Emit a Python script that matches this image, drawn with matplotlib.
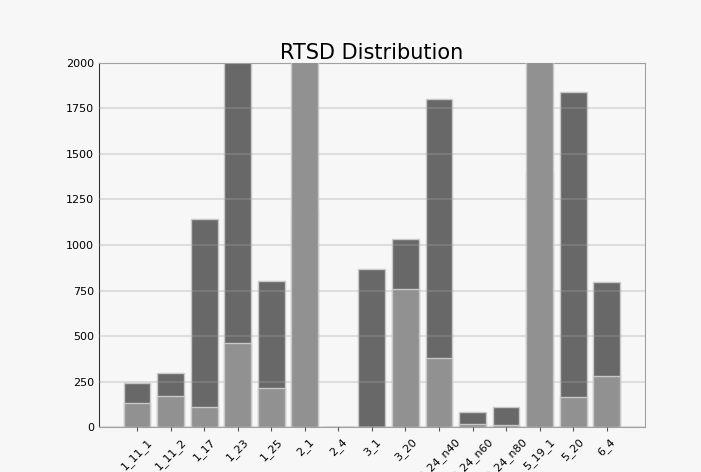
import matplotlib
matplotlib.use("Agg")
import matplotlib.pyplot as plt
import numpy as np

# sign classes and image counts per split
classes = ["1_11_1", "1_11_2", "1_17", "1_23", "1_25", "2_1", "2_4", "3_1",
           "3_20", "3_24_n40", "3_24_n60", "3_24_n80", "5_19_1", "5_20", "6_4"]
train_counts = [245, 298, 1143, 2150, 800, 1200, 0, 866,
                1033, 1802, 84, 110, 1400, 1839, 795]
test_counts = [130, 170, 108, 461, 214, 2400, 0, 0,
               757, 377, 16, 11, 2600, 166, 280]

bg = "#f7f7f7"
fig = plt.figure(figsize=(7.01, 4.72), dpi=100, facecolor=bg)
ax = fig.add_axes([0.141, 0.095, 0.779, 0.772], facecolor=bg)

x = np.arange(len(classes))
ax.bar(x, train_counts, 0.8, color="#686868", edgecolor="#c8c8c8", linewidth=1, zorder=2)
ax.bar(x, test_counts, 0.8, color="#919191", edgecolor="#c8c8c8", linewidth=1, zorder=3)

ax.set_ylim(0, 2000)
ax.set_yticks(np.arange(0, 2001, 250))
ax.set_xticks(x)
ax.set_xticklabels(classes, rotation=45, fontsize=8)
ax.tick_params(axis="y", labelsize=8, length=0)
ax.tick_params(axis="x", length=3, color="#555555")
# grid sits over the bars, faint
ax.grid(axis="y", color="#a3a3a3", alpha=0.3, linewidth=1.5, zorder=4)
ax.set_axisbelow(False)

ax.spines["left"].set_color("#333333")
for side in ("top", "right", "bottom"):
    ax.spines[side].set_color("#a0a0a0")

ax.set_title("RTSD Distribution", fontsize=15, pad=3)

fig.savefig("out.png", dpi=100, facecolor=bg)
